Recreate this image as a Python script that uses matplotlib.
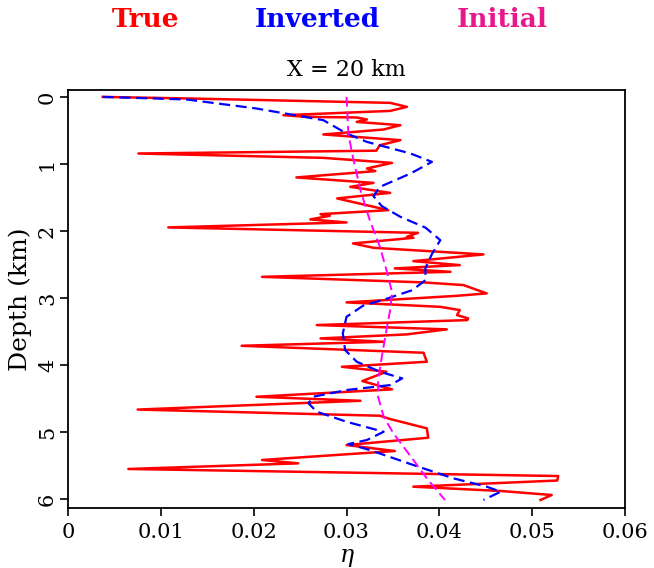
import matplotlib
matplotlib.use("Agg")
import matplotlib.pyplot as plt

plt.rcParams["mathtext.fontset"] = "dejavuserif"

# ---- data (eta values, depth in km) ----
true_eta = [0.00374, 0.0131, 0.0347, 0.0365, 0.0347, 0.0232, 0.0257, 0.0311, 0.0322, 0.0311,
            0.0358, 0.0340, 0.0275, 0.0358, 0.0336, 0.0332, 0.00758, 0.0275, 0.0349, 0.0322,
            0.0331, 0.0246, 0.0329, 0.0304, 0.0347, 0.0290, 0.0345, 0.0272, 0.0282, 0.0261,
            0.0300, 0.0108, 0.0377, 0.0365, 0.0372, 0.0307, 0.0329, 0.04475, 0.0372, 0.0422,
            0.0352, 0.0412, 0.0209, 0.0383, 0.0426, 0.0451, 0.0419, 0.0300, 0.0401, 0.0422,
            0.0419, 0.0431, 0.0430, 0.0268, 0.0408, 0.0365, 0.0272, 0.0340, 0.0187, 0.0383,
            0.03865, 0.0295, 0.0343, 0.0317, 0.0349, 0.0203, 0.0315, 0.0075, 0.0336, 0.0347,
            0.03865, 0.0388, 0.0300, 0.0352, 0.0209, 0.0248, 0.0065, 0.0528, 0.0527, 0.0372,
            0.0466, 0.0521, 0.0509]
true_depth = [0.0, 0.024, 0.089, 0.149, 0.209, 0.273, 0.298, 0.307, 0.337, 0.373,
              0.422, 0.486, 0.560, 0.645, 0.720, 0.802, 0.844, 0.909, 0.984, 1.067,
              1.107, 1.201, 1.282, 1.341, 1.431, 1.514, 1.689, 1.748, 1.773, 1.827,
              1.872, 1.946, 2.027, 2.086, 2.101, 2.185, 2.250, 2.349, 2.449, 2.508,
              2.557, 2.608, 2.683, 2.766, 2.806, 2.930, 2.966, 3.064, 3.130, 3.179,
              3.253, 3.303, 3.328, 3.402, 3.466, 3.541, 3.601, 3.651, 3.711, 3.815,
              3.949, 4.024, 4.098, 4.237, 4.361, 4.471, 4.531, 4.662, 4.754, 4.803,
              4.942, 5.082, 5.191, 5.280, 5.414, 5.464, 5.548, 5.653, 5.720, 5.812,
              5.876, 5.936, 6.010]

inv_eta = [0.00374, 0.0128, 0.0203, 0.0275, 0.0300, 0.0322, 0.0369, 0.0392, 0.0369, 0.0336,
           0.0329, 0.0338, 0.0358, 0.0385, 0.0401, 0.0392, 0.0385, 0.0385, 0.0371, 0.0342,
           0.0318, 0.0300, 0.0296, 0.02985, 0.0311, 0.0336, 0.0360, 0.0347, 0.0300, 0.0264,
           0.0259, 0.0268, 0.0300, 0.0340, 0.0322, 0.0302, 0.0325, 0.0372, 0.0415, 0.0451,
           0.0466, 0.04475]
inv_depth = [0.0, 0.039, 0.173, 0.347, 0.545, 0.671, 0.844, 0.969, 1.142, 1.341,
             1.480, 1.629, 1.788, 1.949, 2.136, 2.344, 2.553, 2.732, 2.881, 3.015,
             3.112, 3.279, 3.526, 3.775, 3.949, 4.098, 4.197, 4.297, 4.371, 4.471,
             4.569, 4.694, 4.844, 4.993, 5.116, 5.176, 5.265, 5.489, 5.687, 5.812,
             5.887, 6.010]

init_eta = [0.0300, 0.0302, 0.0306, 0.0315, 0.0325, 0.0336, 0.0343, 0.0349, 0.0347, 0.0343,
            0.0338, 0.0334, 0.0334, 0.0340, 0.03505, 0.0372, 0.03865, 0.0406]
init_depth = [0.0, 0.545, 0.844, 1.390, 1.838, 2.235, 2.583, 2.911, 3.179, 3.477,
              3.875, 4.222, 4.471, 4.769, 5.016, 5.414, 5.687, 6.010]

x_ticks = [0, 0.01, 0.02, 0.03, 0.04, 0.05, 0.06]
x_tick_labels = ["0", "0.01", "0.02", "0.03", "0.04", "0.05", "0.06"]
y_ticks = [0, 1, 2, 3, 4, 5, 6]
legend_names = ["True", "Inverted", "Initial"]

SERIF = ["DejaVu Serif"]

fig = plt.figure(figsize=(6.54, 5.68), dpi=100)
ax = fig.add_axes([0.104, 0.1056, 0.8517, 0.7368])

ax.plot(true_eta, true_depth, color="#ff0000", lw=1.8, zorder=2,
        solid_joinstyle="round")
ax.plot(inv_eta, inv_depth, color="#0000ff", lw=1.6, ls=(0, (5, 2.5)), zorder=3)
ax.plot(init_eta, init_depth, color="#ff00ff", lw=1.4, ls=(0, (5, 2.5)), zorder=4)

ax.set_xlim(0, 0.06)
ax.set_ylim(6.13, -0.11)
ax.set_xticks(x_ticks)
ax.set_xticklabels(x_tick_labels, fontsize=15, family=SERIF)
ax.set_yticks(y_ticks)
ax.set_yticklabels([str(v) for v in y_ticks], fontsize=15, family=SERIF,
                   rotation=90, va="center")
ax.tick_params(direction="out", length=6, width=1.2)
ax.tick_params(axis="x", pad=5)
ax.tick_params(axis="y", pad=2)
for s in ax.spines.values():
    s.set_linewidth(1.3)

ax.set_xlabel(r"$\eta$", fontsize=17, labelpad=2)
ax.set_ylabel("Depth (km)", fontsize=18, family=SERIF, labelpad=4)
ax.set_title("X = 20 km", fontsize=16, family=SERIF, pad=10)

leg_colors = ["#ff0000", "#0000ff", "#e8178a"]
leg_x = [145 / 654, 317 / 654, 502 / 654]
for name, c, xx in zip(legend_names, leg_colors, leg_x):
    fig.text(xx, 1 - 19.5 / 568, name, color=c, fontsize=19, fontweight="bold",
             family=SERIF, ha="center", va="center")

fig.savefig("out.png", dpi=100)
